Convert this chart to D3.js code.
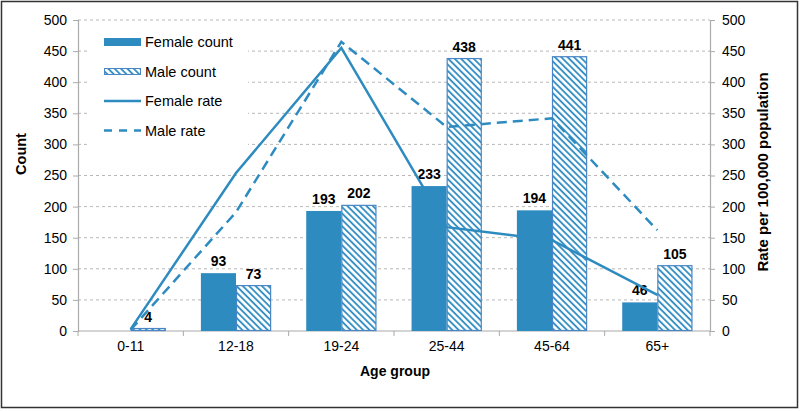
<!DOCTYPE html>
<html><head><meta charset="utf-8">
<script src="https://cdn.jsdelivr.net/npm/d3@7"></script>
<style>body{margin:0;background:#fff;} svg{display:block;font-family:"Liberation Sans",Arial,sans-serif;}</style>
</head><body>
<script>
const categories = ["0-11","12-18","19-24","25-44","45-64","65+"];
const femaleCount = [0,93,193,233,194,46];
const maleCount = [4,73,202,438,441,105];
const femaleRate = [3,254,455,167,146,58];
const maleRate = [2,191,465,328,342,162];
const yTicks = [0,50,100,150,200,250,300,350,400,450,500];

const W=800,H=411;
const blue="#2E8BC0";
const svg=d3.select("body").append("svg").attr("width",W).attr("height",H);
const defs=svg.append("defs");
const pat=defs.append("pattern").attr("id","hatch").attr("patternUnits","userSpaceOnUse")
  .attr("width",4.5).attr("height",4.5).attr("patternTransform","rotate(-45)");
pat.append("rect").attr("width",4.5).attr("height",4.5).attr("fill","#fff");
pat.append("line").attr("x1",1).attr("y1",0).attr("x2",1).attr("y2",4.5).attr("stroke",blue).attr("stroke-width",1.8);

svg.append("rect").attr("x",1.5).attr("y",1.5).attr("width",W-4).attr("height",H-5)
  .attr("fill","#fff").attr("stroke","#333").attr("stroke-width",1.5);

const x=d3.scaleBand().domain(categories).range([78,710]).paddingInner(0).paddingOuter(0);
const y=d3.scaleLinear().domain([0,500]).range([331,20]);
const y2=d3.scaleLinear().domain([0,500]).range([331,20]);
const xs=d3.scaleBand().domain(["f","m"]).range([0,x.bandwidth()]).paddingInner(0).paddingOuter(0.5);

// gridlines
svg.append("g").selectAll("line").data(yTicks.filter(d=>d>0)).join("line")
  .attr("x1",78).attr("x2",710).attr("y1",d=>y(d)).attr("y2",d=>y(d))
  .attr("stroke","#a6a6a6").attr("stroke-dasharray","3,3").attr("stroke-width",0.8);

// axes
const axL=svg.append("g").attr("transform","translate(78,0)")
  .call(d3.axisLeft(y).tickValues(yTicks).tickSize(5).tickPadding(6));
const axR=svg.append("g").attr("transform","translate(710,0)")
  .call(d3.axisRight(y2).tickValues(yTicks).tickSize(5).tickPadding(7));
const axB=svg.append("g").attr("transform","translate(0,331)")
  .call(d3.axisBottom(x).tickSize(0).tickPadding(10));
axB.select(".domain").remove();
svg.append("line").attr("x1",78).attr("x2",710).attr("y1",331).attr("y2",331).attr("stroke","#aaa").attr("stroke-width",1.2);
svg.append("g").selectAll("line").data(d3.range(categories.length+1)).join("line")
  .attr("x1",d=>78+d*x.bandwidth()).attr("x2",d=>78+d*x.bandwidth()).attr("y1",331).attr("y2",336)
  .attr("stroke","#aaa");
[axL,axR,axB].forEach(a=>{
  a.selectAll(".domain").attr("stroke","#aaa").attr("stroke-width",1.2);
  a.selectAll(".tick line").attr("stroke","#aaa");
  a.selectAll("text").attr("font-size",14).attr("fill","#000").attr("font-family","Liberation Sans, Arial, sans-serif");
});

// bars
const g=svg.append("g");
g.selectAll(".f").data(categories).join("rect")
  .attr("x",(d)=>x(d)+xs("f")).attr("width",xs.bandwidth())
  .attr("y",(d,i)=>y(femaleCount[i])).attr("height",(d,i)=>y(0)-y(femaleCount[i]))
  .attr("fill",blue);
g.selectAll(".m").data(categories).join("rect")
  .attr("x",(d)=>x(d)+xs("m")+0.5).attr("width",xs.bandwidth()-1)
  .attr("y",(d,i)=>y(maleCount[i])).attr("height",(d,i)=>y(0)-y(maleCount[i])-0.5)
  .attr("fill","url(#hatch)").attr("stroke","#4A86C5").attr("stroke-width",1.2);

// labels
const lab=svg.append("g").attr("font-size",14).attr("font-weight","bold").attr("text-anchor","middle");
categories.forEach((c,i)=>{
  if(femaleCount[i]>0) lab.append("text").attr("x",x(c)+xs("f")+xs.bandwidth()/2).attr("y",y(femaleCount[i])-7).text(femaleCount[i]);
  lab.append("text").attr("x",x(c)+xs("m")+xs.bandwidth()/2).attr("y",y(maleCount[i])-7).text(maleCount[i]);
});

// lines
const line=d3.line().x((d,i)=>x(categories[i])+x.bandwidth()/2).y(d=>y2(d));
svg.append("path").datum(femaleRate).attr("d",line).attr("fill","none").attr("stroke",blue).attr("stroke-width",2.5);
svg.append("path").datum(maleRate).attr("d",line).attr("fill","none").attr("stroke",blue).attr("stroke-width",2.5).attr("stroke-dasharray","10,6");

// legend
const lg=svg.append("g");
lg.append("rect").attr("x",88).attr("y",27).attr("width",160).attr("height",120).attr("fill","#fff");
const items=[{t:"Female count",k:"f"},{t:"Male count",k:"m"},{t:"Female rate",k:"fl"},{t:"Male rate",k:"ml"}];
items.forEach((it,i)=>{
  const cy=42+i*29.5;
  if(it.k==="f") lg.append("rect").attr("x",104).attr("y",cy-4).attr("width",37).attr("height",8).attr("fill",blue);
  if(it.k==="m") lg.append("rect").attr("x",104.5).attr("y",cy-3).attr("width",36).attr("height",6).attr("fill","url(#hatch)").attr("stroke","#4A86C5").attr("stroke-width",1);
  if(it.k==="fl") lg.append("line").attr("x1",104).attr("x2",141).attr("y1",cy).attr("y2",cy).attr("stroke",blue).attr("stroke-width",2.5);
  if(it.k==="ml") lg.append("line").attr("x1",104).attr("x2",141).attr("y1",cy).attr("y2",cy).attr("stroke",blue).attr("stroke-width",2.5).attr("stroke-dasharray","8,7");
  lg.append("text").attr("x",145).attr("y",cy+5).attr("font-size",14.5).text(it.t);
});

// axis titles
svg.append("text").attr("transform","translate(26,154) rotate(-90)").attr("text-anchor","middle")
  .attr("font-size",14.5).attr("font-weight","bold").text("Count");
svg.append("text").attr("transform","translate(768,172) rotate(-90)").attr("text-anchor","middle")
  .attr("font-size",15).attr("font-weight","bold").text("Rate per 100,000 population");
svg.append("text").attr("x",395).attr("y",376).attr("text-anchor","middle")
  .attr("font-size",14).attr("font-weight","bold").text("Age group");
</script>
</body></html>
